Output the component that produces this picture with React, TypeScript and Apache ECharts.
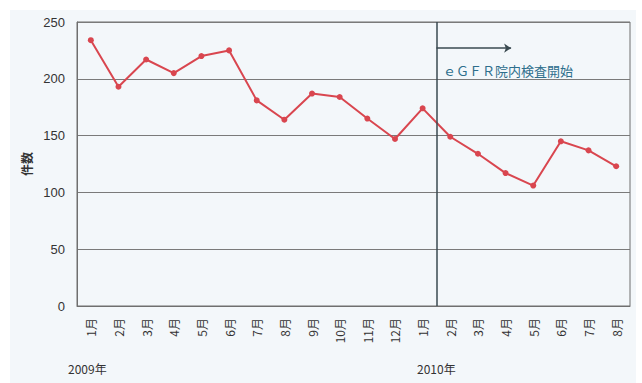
import React, { useEffect, useRef } from "react";
import * as echarts from "echarts";

const months = ["1月","2月","3月","4月","5月","6月","7月","8月","9月","10月","11月","12月","1月","2月","3月","4月","5月","6月","7月","8月"];
const counts = [234,193,217,205,220,225,181,164,187,184,165,147,174,149,134,117,106,145,137,123];
const yearLabels = ["2009年", "2010年"];
const yTicks = [0, 50, 100, 150, 200, 250];
const startBoundary = 13; // boundary between 2010 1月 and 2月
const noteText = "ｅＧＦＲ院内検査開始";

export default function App() {
  const ref = useRef<HTMLDivElement>(null);
  useEffect(() => {
    document.body.style.margin = "0";
    const chart = echarts.init(ref.current!, null, { renderer: "svg" });
    const txt = "#333";
    chart.setOption({
      animation: false,
      backgroundColor: "#ffffff",
      graphic: [
        { type: "rect", z: -10, shape: { x: 10, y: 10, width: 626, height: 373 }, style: { fill: "#f3f7fa" } },
        { type: "text", left: 68, top: 362, style: { text: yearLabels[0], fill: txt, font: "12px 'Noto Sans CJK JP', sans-serif" } },
        { type: "text", left: 417, top: 362, style: { text: yearLabels[1], fill: txt, font: "12px 'Noto Sans CJK JP', sans-serif" } },
        { type: "text", left: 443, top: 64, style: { text: noteText, fill: "#2d6e8c", font: "13px 'Noto Sans CJK JP', sans-serif" } },
      ],
      grid: { left: 77, right: 12, top: 22, bottom: 77, show: true, borderColor: "#6f6f6f", borderWidth: 1 },
      xAxis: [
        {
          type: "category",
          data: months,
          boundaryGap: true,
          axisLine: { lineStyle: { color: "#6f6f6f" } },
          axisTick: { inside: true, length: 4, lineStyle: { color: "#6f6f6f" } },
          axisLabel: { rotate: 90, interval: 0, color: txt, fontSize: 12, margin: 12, fontFamily: "'Noto Sans CJK JP', sans-serif" },
        },
        { type: "value", min: 0, max: 20, show: false },
      ],
      yAxis: {
        type: "value",
        min: yTicks[0],
        max: yTicks[yTicks.length - 1],
        interval: 50,
        name: "件数",
        nameLocation: "middle",
        nameRotate: 90,
        nameGap: 44,
        nameTextStyle: { color: txt, fontSize: 12, fontWeight: "bold", fontFamily: "'Noto Sans CJK JP', sans-serif" },
        axisLine: { show: true, lineStyle: { color: "#6f6f6f" } },
        axisTick: { show: false },
        axisLabel: { color: txt, fontSize: 13, margin: 12, fontFamily: "Arial, sans-serif" },
        splitLine: { lineStyle: { color: "#7a7a7a", width: 1 } },
      },
      series: [
        {
          type: "line",
          data: counts,
          symbol: "circle",
          symbolSize: 6,
          lineStyle: { color: "#d9464f", width: 2 },
          itemStyle: { color: "#d9464f" },
        },
        {
          type: "line",
          xAxisIndex: 1,
          data: [],
          markLine: {
            silent: true,
            animation: false,
            label: { show: false },
            data: [
              [
                { coord: [startBoundary, 0], symbol: "none" },
                { coord: [startBoundary, 250], symbol: "none" },
              ],
              [
                { coord: [startBoundary, 227], symbol: "none" },
                { coord: [15.7, 227], symbol: "arrow", symbolSize: 7 },
              ],
            ],
            lineStyle: { color: "#3a4a50", width: 1.5, type: "solid" },
          },
        },
      ],
    });
    return () => chart.dispose();
  }, []);
  return <div ref={ref} style={{ width: 642, height: 383 }} />;
}
